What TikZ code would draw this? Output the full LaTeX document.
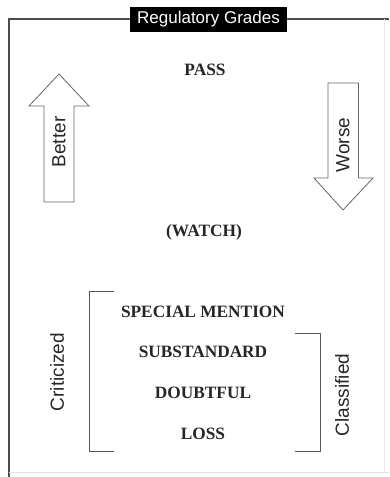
\documentclass[tikz,border=0pt]{standalone}
\usepackage{fontspec}
\setmainfont{Liberation Serif}
\setsansfont{Liberation Sans}
\begin{document}
\begin{tikzpicture}[x=1pt,y=-1pt,
  grade/.style={font=\fontsize{17.3}{19}\selectfont\bfseries, text=black!85, inner sep=0pt},
  side/.style={font=\sffamily\fontsize{19}{21}\selectfont, text=black!85, inner sep=0pt, rotate=90},
  frameline/.style={draw=black!70, line width=1.1pt},
  arrowshape/.style={draw=black!60, line width=0.8pt, fill=white},
  bracket/.style={draw=black!65, line width=1pt}]
\useasboundingbox (0,0) rectangle (389,477);
\fill[white] (0,0) rectangle (389,477);
% frame
\draw[frameline] (389,19) -- (9,19) -- (9,477);
\draw[draw=black!12, line width=0.8pt] (9,472) -- (389,472);
\draw[draw=black!8, line width=0.6pt] (384,19) -- (384,472);
% title
\node[fill=black, text=white, font=\sffamily\fontsize{17}{19}\selectfont, inner xsep=5pt, minimum height=25pt, minimum width=157pt] (title) at (208.5,19.5) {Regulatory Grades};
% grades
\node[grade] (pass) at (205,70) {PASS};
\node[grade] (watch) at (204,232) {(WATCH)};
\node[grade] (sm) at (203,312) {SPECIAL MENTION};
\node[grade] (sub) at (203,352) {SUBSTANDARD};
\node[grade] (dbt) at (203,393) {DOUBTFUL};
\node[grade] (loss) at (203,434) {LOSS};
% Better arrow
\draw[arrowshape] (59,74) -- (89,106) -- (74,106) -- (74,202) -- (44,202) -- (44,106) -- (29,106) -- cycle;
\node[side] (better) at (59,142) {Better};
% Worse arrow
\draw[arrowshape] (343,210) -- (373,178) -- (358.5,178) -- (358.5,83) -- (328,83) -- (328,178) -- (314,178) -- cycle;
\node[side] (worse) at (343,145) {Worse};
% brackets
\draw[bracket] (114,291) -- (89,291) -- (89,451) -- (114,451);
\draw[bracket] (295,333) -- (320,333) -- (320,451) -- (295,451);
\node[side] (crit) at (57,372) {Criticized};
\node[side] (class) at (342,395) {Classified};
\end{tikzpicture}
\end{document}
